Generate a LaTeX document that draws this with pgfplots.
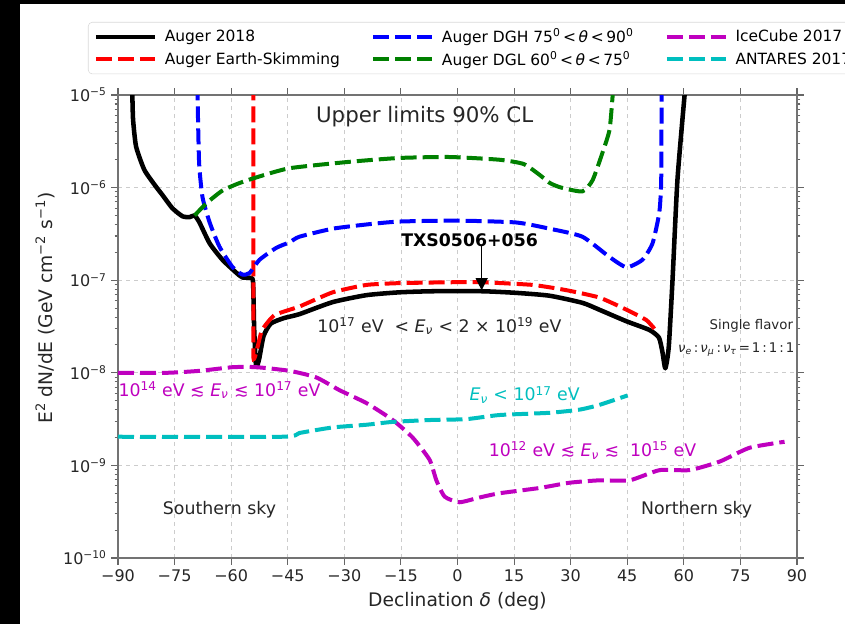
\documentclass[border=0pt]{standalone}
\usepackage{fontspec}
\setmainfont{DejaVu Sans}
\usepackage{pgfplots}
\pgfplotsset{compat=1.18}
\usetikzlibrary{arrows.meta}
\newcommand{\fs}[1]{\fontsize{#1pt}{#1pt}\selectfont}
\newcommand{\gsp}{\hspace{0.15em}}
\definecolor{mpgreen}{rgb}{0,0.5,0}
\definecolor{mpmag}{rgb}{0.75,0,0.75}
\definecolor{mpcyan}{rgb}{0,0.75,0.75}
\tikzset{dsh/.style={dash pattern=on 12pt off 4.5pt, line width=3pt}}
\begin{document}
\begin{tikzpicture}
\path[use as bounding box] (0,0) rectangle (633.75pt,468pt);
\fill[white] (0,0) rectangle (633.75pt,468pt);
\fill[black] (0,0) rectangle (15pt,468pt);
\fill[black] (0,465pt) rectangle (633.75pt,468pt);
\begin{axis}[
  at={(88.5pt,49.5pt)}, anchor=south west,
  scale only axis, width=509.25pt, height=347.25pt,
  xmin=-90, xmax=90, ymode=log, ymin=1e-10, ymax=1e-5,
  xtick={-90,-75,...,90},
  xticklabels={−90,−75,−60,−45,−30,−15,0,15,30,45,60,75,90},
  ytick={1e-10,1e-9,1e-8,1e-7,1e-6,1e-5},
  yticklabels={10\textsuperscript{−10},10\textsuperscript{−9},10\textsuperscript{−8},10\textsuperscript{−7},10\textsuperscript{−6},10\textsuperscript{−5}},
  tick align=outside,
  major tick length=5pt, minor tick length=2.5pt,
  tick style={black!60, line width=0.8pt},
  axis line style={black!55, line width=1pt},
  grid=major, major grid style={dashed, black!20, line width=0.6pt},
  ticklabel style={font=\fs{12}, text=black!85},
  xlabel={Declination \textit{δ} (deg)},
  ylabel={E\textsuperscript{2} dN/dE (GeV cm\textsuperscript{−2} s\textsuperscript{−1})},
  label style={font=\fs{14}, text=black!85},
  xlabel style={at={(axis description cs:0.5,-0.093)}, anchor=center},
  ylabel style={at={(axis description cs:-0.1075,0.54)}, anchor=center},
  legend columns=3,
  legend cell align=left,
  legend image code/.code={\draw[#1] (0pt,0pt) -- (44pt,0pt); \path (48pt,0pt);},
  legend style={at={(-0.0442,1.1577)}, anchor=north west, draw=black!15, rounded corners=3pt, fill=white,
    font=\fs{11.6}, inner xsep=4pt, inner ysep=3pt, row sep=1pt,
    /tikz/every even column/.append style={column sep=21.5pt}},
  clip=true,
]
\addlegendimage{black, line width=3.4pt}
\addlegendentry{Auger 2018}
\addlegendimage{blue, dsh}
\addlegendentry{Auger DGH 75\textsuperscript{0}\,<\,\textit{θ}\,<\,90\textsuperscript{0}}
\addlegendimage{mpmag, dsh}
\addlegendentry{IceCube 2017}
\addlegendimage{red, dsh}
\addlegendentry{Auger Earth-Skimming}
\addlegendimage{mpgreen, dsh}
\addlegendentry{Auger DGL 60\textsuperscript{0}\,<\,\textit{θ}\,<\,75\textsuperscript{0}}
\addlegendimage{mpcyan, dsh}
\addlegendentry{ANTARES 2017}

% Auger 2018
\addplot[black, line width=3.4pt, line join=round, smooth, tension=0.35, forget plot] coordinates {
(-86.3,1.3e-5) (-86.2,1.0e-5) (-86.0,5.4e-6) (-85.2,2.77e-6) (-83.0,1.55e-6) (-79.9,1.02e-6)
(-78.2,8.3e-7) (-75.6,6.0e-7) (-72.9,4.9e-7) (-71.0,4.8e-7) (-69.7,5.0e-7) (-68.4,4.2e-7)
(-65.7,2.5e-7) (-62.3,1.66e-7) (-58.6,1.2e-7) (-57.0,1.07e-7) (-54.8,1.06e-7) (-54.2,9.5e-8)
(-53.9,3.0e-8) (-53.4,1.17e-8) (-52.6,1.4e-8) (-51.4,2.5e-8) (-49.5,3.4e-8) (-46.0,3.9e-8) (-41.9,4.3e-8)
(-33.1,5.8e-8) (-24.1,6.9e-8) (-15.4,7.4e-8) (-6.6,7.6e-8) (6.6,7.6e-8) (15.6,7.3e-8)
(24.4,6.8e-8) (33.1,5.7e-8) (37.6,4.8e-8) (44.8,3.6e-8) (50.9,2.9e-8) (53.4,2.4e-8)
(54.3,1.7e-8) (55.1,1.12e-8) (56.0,1.9e-8) (57.0,1.0e-7) (58.3,1.2e-6) (60.2,1.0e-5) (60.5,1.3e-5)
};
% Earth-Skimming
\addplot[red, dsh, smooth, tension=0.3, forget plot] coordinates {
(-54.1,1.3e-5) (-54.1,1.0e-7) (-54.1,1.45e-8) (-53.0,1.9e-8) (-51.8,2.9e-8) (-48.5,4.2e-8) (-41.9,5.2e-8)
(-33.1,7.4e-8) (-24.1,8.9e-8) (-15.4,9.3e-8) (-2.1,9.5e-8) (6.6,9.5e-8) (19.9,8.9e-8)
(28.9,7.8e-8) (37.6,6.5e-8) (44.8,4.8e-8) (50.1,3.7e-8) (52.8,2.8e-8)
};
% DGH
\addplot[blue, dsh, smooth, tension=0.35, forget plot] coordinates {
(-68.9,1.3e-5) (-68.9,9.5e-6) (-68.5,1.86e-6) (-67.6,7.9e-7) (-65.7,4.2e-7) (-63.1,2.3e-7)
(-59.6,1.38e-7) (-57.0,1.15e-7) (-55.1,1.2e-7) (-52.5,1.66e-7) (-48.0,2.24e-7) (-44.5,2.57e-7)
(-41.9,2.95e-7) (-33.1,3.6e-7) (-24.1,4.0e-7) (-15.4,4.3e-7) (0,4.4e-7) (15.6,4.2e-7)
(24.4,3.6e-7) (33.1,2.95e-7) (40.3,1.78e-7) (44.8,1.38e-7) (49.0,1.66e-7) (51.7,2.5e-7)
(53.5,5.4e-7) (54.0,1.2e-6) (54.1,9.5e-6) (54.1,1.3e-5)
};
% DGL
\addplot[mpgreen, dsh, smooth, tension=0.35, forget plot] coordinates {
(-69.7,5.0e-7) (-66.5,6.8e-7) (-62.3,9.3e-7) (-57.8,1.12e-6) (-53.3,1.29e-6) (-44.5,1.62e-6)
(-28.6,1.9e-6) (-15.4,2.09e-6) (-2.1,2.14e-6) (11.1,2.0e-6) (17.5,1.8e-6) (21.5,1.4e-6) (24.5,1.12e-6)
(27.5,1.0e-6) (33.1,9.1e-7) (35.8,1.2e-6) (38.4,2.36e-6) (40.3,4.2e-6) (41.1,9.5e-6) (41.4,1.3e-5)
};
% IceCube
\addplot[mpmag, dsh, smooth, tension=0.35, forget plot] coordinates {
(-90,1.0e-8) (-77.1,1.0e-8) (-68.4,1.05e-8) (-59.6,1.15e-8) (-53.3,1.15e-8) (-44.5,1.05e-8)
(-37.4,8.9e-9) (-31.3,6.5e-9) (-24.1,4.7e-9) (-17.2,3.1e-9) (-11.9,2.0e-9) (-7.4,1.15e-9)
(-5.6,6.9e-10) (-3.4,4.6e-10) (0.5,4.0e-10) (5.8,4.5e-10) (11.1,5.0e-10) (21.7,5.7e-10)
(29.7,6.5e-10) (37.6,6.9e-10) (45.6,6.9e-10) (53.6,8.9e-10) (61.5,8.9e-10) (69.5,1.1e-9)
(77.4,1.55e-9) (86.7,1.8e-9)
};
% ANTARES
\addplot[mpcyan, dsh, smooth, tension=0.35, forget plot] coordinates {
(-90,2.04e-9) (-46.4,2.04e-9) (-41.9,2.24e-9) (-33.1,2.57e-9) (-24.1,2.75e-9) (-17.2,2.95e-9)
(-6.6,3.1e-9) (2.4,3.16e-9) (11.1,3.5e-9) (24.4,3.7e-9) (32.3,4.0e-9) (37.6,4.5e-9) (45.1,5.7e-9)
};

\node[font=\fs{16}, text=black!85] at (axis cs:-8.7,5.8e-6) {Upper limits 90\% CL};
\node[font=\bfseries\fs{13}] at (axis cs:3.2,2.7e-7) {TXS0506+056};
\draw[black, line width=0.8pt, -{Triangle[length=9pt,width=9pt]}] (axis cs:6.4,2.4e-7) -- (axis cs:6.4,7.8e-8);
\node[font=\fs{13}, text=black!85] at (axis cs:-4.8,3.2e-8) {10\textsuperscript{17} eV~ < \textit{E}\textsubscript{\textit{ν}} < 2 × 10\textsuperscript{19} eV};
\node[font=\fs{10}, text=black!85] at (axis cs:77.9,3.2e-8) {Single flavor};
\node[font=\fs{10}, text=black!85] at (axis cs:73.9,1.78e-8) {\textit{ν}\textsubscript{\textit{e}}\gsp:\gsp\textit{ν}\textsubscript{\textit{μ}}\gsp:\gsp\textit{ν}\textsubscript{\textit{τ}}\gsp=\gsp1\gsp:\gsp1\gsp:\gsp1};
\node[font=\fs{13}, text=mpmag] at (axis cs:-63.1,6.5e-9) {10\textsuperscript{14} eV ≲ \textit{E}\textsubscript{\textit{ν}} ≲ 10\textsuperscript{17} eV};
\node[font=\fs{13}, text=mpcyan] at (axis cs:17.8,5.8e-9) {\textit{E}\textsubscript{\textit{ν}} < 10\textsuperscript{17} eV};
\node[font=\fs{13}, text=mpmag] at (axis cs:35.8,1.45e-9) {10\textsuperscript{12} eV ≲ \textit{E}\textsubscript{\textit{ν}} ≲~ 10\textsuperscript{15} eV};
\node[font=\fs{13}, text=black!85] at (axis cs:-63.1,3.3e-10) {Southern sky};
\node[font=\fs{13}, text=black!85] at (axis cs:63.4,3.3e-10) {Northern sky};
\end{axis}
\end{tikzpicture}
\end{document}
